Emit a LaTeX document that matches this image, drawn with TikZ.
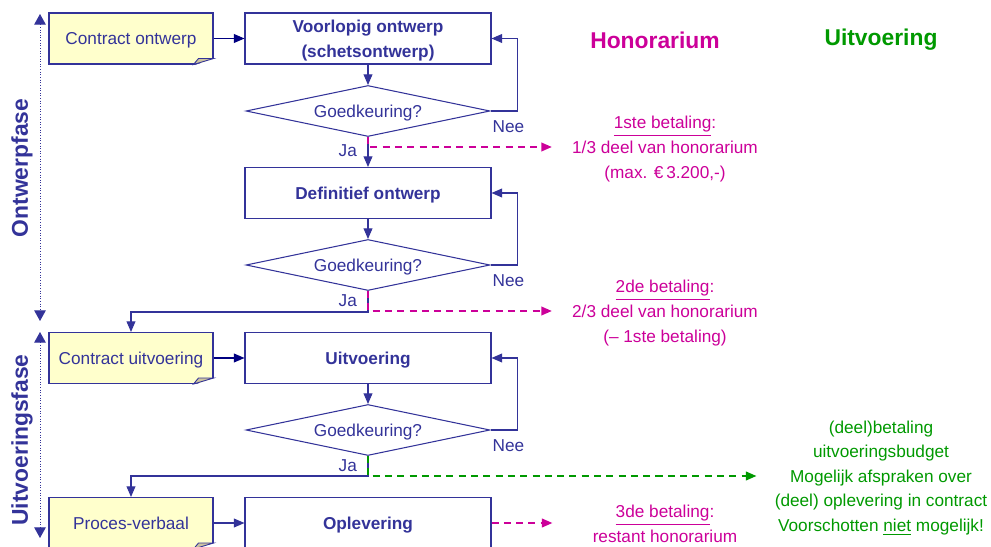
\documentclass[tikz,border=0pt]{standalone}
\usepackage{fontspec}
\setmainfont{Liberation Sans}
\usepackage{tikz}
\usetikzlibrary{arrows.meta,%
                shapes,positioning}
\definecolor{flowblue}{RGB}{51,51,153}
\definecolor{navyarrow}{RGB}{0,0,128}
\definecolor{honmagenta}{RGB}{204,0,153}
\definecolor{uitgreen}{RGB}{0,153,0}
\definecolor{noteyellow}{RGB}{255,255,204}
\definecolor{foldtan}{RGB}{204,196,160}
\newcommand{\flowfont}{\fontsize{9.8}{14}\selectfont}
\newcommand{\headfont}{\fontsize{13}{15}\selectfont\bfseries}

\begin{document}
\begin{tikzpicture}[x=0.02cm,y=-0.02cm,node distance=0.62cm]
\tikzset{BoxStyle/.style = {shape          = rectangle,
                            draw           = flowblue,
                            line width     = 0.6pt,
                            minimum width  = 4.92cm,
                            minimum height = 1.02cm,
                            inner sep      = 2pt,
                            text depth     = 0pt,
                            align          = center,
                            text           = flowblue,
                            font           = \flowfont\bfseries},
         NoteStyle/.style = {shape          = rectangle,
                             draw           = flowblue,
                             fill           = noteyellow,
                             line width     = 0.6pt,
                             minimum width  = 3.28cm,
                             minimum height = 1.02cm,
                             text depth     = 0pt,
                             text           = flowblue,
                             font           = \flowfont},
         CheckStyle/.style = {shape          = diamond,
                              draw           = flowblue,
                              line width     = 0.6pt,
                              aspect         = 4.8,
                              minimum width  = 4.88cm,
                              minimum height = 1.02cm,
                              inner sep      = 0pt,
                              text depth     = 0pt,
                              text           = flowblue,
                              font           = \flowfont},
         LabelStyle/.style = {inner sep=1pt, text=flowblue, font=\flowfont},
         PhaseLabel/.style = {rotate=90, text=flowblue, font=\headfont},
         PayText/.style = {inner sep=0pt, align=center, text=honmagenta, font=\flowfont},
         BudgetText/.style = {inner sep=0pt, align=center, text=uitgreen, font=\flowfont},
         FlowArrow/.style = {draw=flowblue, line width=0.6pt,
                             -{Triangle[length=6pt,width=5pt]}},
         PhaseArrow/.style = {draw=flowblue, line width=0.5pt, dash pattern=on 0.5pt off 1pt,
                              {Triangle[length=6pt,width=6.5pt]}-{Triangle[length=6pt,width=6.5pt]}},
         PayArrow/.style = {draw=honmagenta, line width=0.9pt, dash pattern=on 4pt off 3pt,
                            -{Triangle[length=6pt,width=5pt]}},
         BudgetArrow/.style = {PayArrow, draw=uitgreen}}
     \useasboundingbox (0,0) rectangle (991,547);

     % main column
     \node[BoxStyle] (vo) at (368,38.5) {Voorlopig ontwerp\\(schetsontwerp)};
     \node[CheckStyle] (g1) at (368,111) {Goedkeuring?};
     \node[BoxStyle] (do) at (368,193) {Definitief ontwerp};
     \node[CheckStyle] (g2) at (368,265) {Goedkeuring?};
     \node[BoxStyle] (uv) at (368,358) {Uitvoering};
     \node[CheckStyle] (g3) at (368,430) {Goedkeuring?};
     \node[BoxStyle] (ol) at (368,523) {Oplevering};

     % contracts
     \node[NoteStyle,left=of vo] (co) {Contract ontwerp};
     \node[NoteStyle,left=of uv] (cu) {Contract uitvoering};
     \node[NoteStyle,left=of ol] (pv) {Proces-verbaal};
     \foreach \n in {co,cu,pv}{
       \fill[white] ([shift={(-20,1)}]\n.south east) -- ([shift={(1,1)}]\n.south east)
                    -- ([shift={(1,-6)}]\n.south east) -- cycle;
       \filldraw[fill=foldtan,draw=flowblue,line width=0.5pt]
                    ([shift={(-20,0)}]\n.south east) -- ([shift={(0,-6)}]\n.south east)
                    -- ([shift={(-15,-6)}]\n.south east) -- cycle;
     }

     % phases
     \coordinate (ot) at (40,14);
     \coordinate (ob) at (40,321);
     \coordinate (ut) at (40,332);
     \coordinate (ub) at (40,538);
     \draw[PhaseArrow] (ot) -- (ob);
     \draw[PhaseArrow] (ut) -- (ub);
     \node[PhaseLabel] (fo) at (22,168) {Ontwerpfase};
     \node[PhaseLabel] (fu) at (22,440) {Uitvoeringsfase};

     % headers and payments
     \node[text=honmagenta,font=\headfont] (hh) at (655,40) {Honorarium};
     \node[text=uitgreen,font=\headfont] (hu) at (881,40) {Uitvoering};
     \node[PayText] (p1) at (665,149) {\underline{1ste betaling}:\\1/3 deel van honorarium\\(max. €\,3.200,-)};
     \node[PayText] (p2) at (665,313) {\underline{2de betaling}:\\2/3 deel van honorarium\\(– 1ste betaling)};
     \node[PayText] (p3) at (665,524) {\underline{3de betaling}:\\restant honorarium};
     \node[BudgetText] (bu) at (881,478) {(deel)betaling\\uitvoeringsbudget\\Mogelijk afspraken over\\(deel) oplevering in contract\\Voorschotten \underline{niet} mogelijk!};

     % flow
     \draw[FlowArrow,draw=navyarrow] (co) -- (vo);
     \draw[FlowArrow,draw=navyarrow] (cu) -- (uv);
     \draw[FlowArrow] (pv) -- (ol);
     \draw[FlowArrow] (vo) -- (g1);
     \draw[FlowArrow] (g1) -- (do);
     \draw[FlowArrow] (do) -- (g2);
     \draw[FlowArrow] (uv) -- (g3);
     \draw[FlowArrow] (g1.east) -- ++(27,0) |- (vo.east);
     \draw[FlowArrow] (g2.east) -- ++(27,0) |- (do.east);
     \draw[FlowArrow] (g3.east) -- ++(27,0) |- (uv.east);
     \draw[FlowArrow] (g2.south) -- ++(0,21) -| (cu.north);
     \draw[FlowArrow] (g3.south) -- ++(0,20) -| (pv.north);
     \node[LabelStyle,anchor=north west] (n1) at ([shift={(0,8)}]g1.east) {Nee};
     \node[LabelStyle,anchor=north west] (n2) at ([shift={(0,8)}]g2.east) {Nee};
     \node[LabelStyle,anchor=north west] (n3) at ([shift={(0,8)}]g3.east) {Nee};
     \node[LabelStyle,anchor=north east] (j1) at ([shift={(-9,6)}]g1.south) {Ja};
     \node[LabelStyle,anchor=north east] (j2) at ([shift={(-9,2)}]g2.south) {Ja};
     \node[LabelStyle,anchor=north east] (j3) at ([shift={(-9,2)}]g3.south) {Ja};

     % payments
     \draw[PayArrow] (g1.south) |- ([shift={(-20,-2)}]p1.west);
     \draw[PayArrow] (g2.south) |- ([shift={(-20,-2)}]p2.west);
     \draw[PayArrow] (ol.east) -- ([shift={(-40,-1)}]p3.west);
     \draw[BudgetArrow] (g3.south) |- ([shift={(-18,-2)}]bu.west);

  \end{tikzpicture}
\end{document}
